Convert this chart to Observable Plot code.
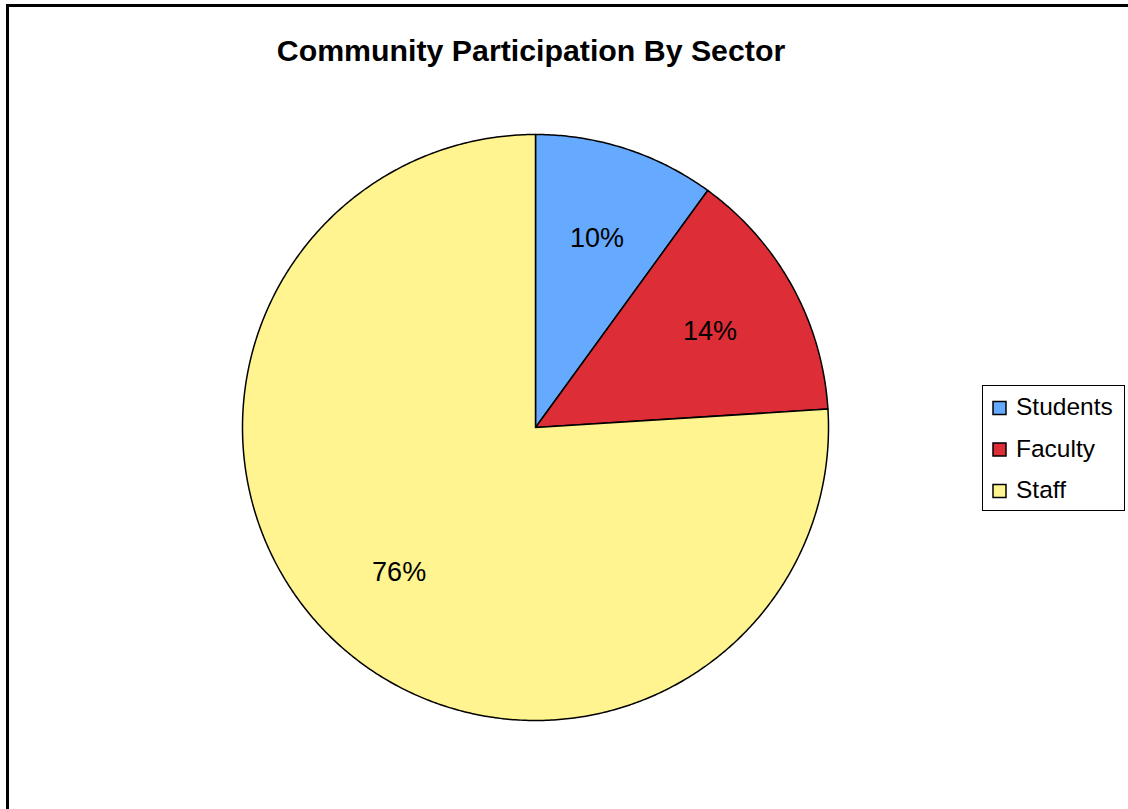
<!DOCTYPE html>
<html>
<head>
<meta charset="utf-8">
<script src="https://cdn.jsdelivr.net/npm/d3@7"></script>
<script src="https://cdn.jsdelivr.net/npm/@observablehq/plot@0.6"></script>
<style>
  html, body { margin: 0; padding: 0; background: #fff; overflow: hidden; width: 1128px; height: 809px; }
  #wrap { position: relative; width: 1128px; height: 809px; overflow: hidden; font-family: "Liberation Sans", Arial, sans-serif; background: #fff; }
  #wrap > svg { position: absolute; left: 0; top: 0; display: block; }
  #overlay { pointer-events: none; }
</style>
</head>
<body>
<div id="wrap"></div>
<script>
// ---- data ----
const title = "Community Participation By Sector";
const categories = ["Students", "Faculty", "Staff"];
const values = [10, 14, 76];
const colors = ["#66aaff", "#dd2d36", "#fff48f"];

// ---- build slice geometry from the data ----
const total = d3.sum(values);
const arcs = d3.pie().sort(null).value(d => d)(values);
const step = Math.PI / 360;
const slices = arcs.map((a, i) => {
  const ring = [[0, 0]];
  for (let t = a.startAngle; t < a.endAngle; t += step) ring.push([Math.sin(t), Math.cos(t)]);
  ring.push([Math.sin(a.endAngle), Math.cos(a.endAngle)]);
  ring.push([0, 0]);
  return {type: "Feature", properties: {category: categories[i]}, geometry: {type: "Polygon", coordinates: [ring]}};
});
const pieShape = {type: "FeatureCollection", features: slices};
const labelRadius = 0.68;
const labels = arcs.map((a, i) => {
  const mid = (a.startAngle + a.endAngle) / 2;
  return {x: labelRadius * Math.sin(mid), y: labelRadius * Math.cos(mid), text: Math.round(values[i] / total * 100) + "%"};
});

const chart = Plot.plot({
  width: 1128,
  height: 809,
  marginLeft: 242,
  marginRight: 300,
  marginTop: 134,
  marginBottom: 89,
  projection: {type: "reflect-y", domain: pieShape},
  color: {domain: categories, range: colors},
  style: {fontFamily: '"Liberation Sans", Arial, sans-serif', background: "transparent"},
  marks: [
    Plot.geo(pieShape, {fill: d => d.properties.category, stroke: "#000", strokeWidth: 1.5, strokeLinejoin: "round"}),
    Plot.text(labels, {x: "x", y: "y", text: "text", fontSize: 27, fill: "#000", lineAnchor: "middle"})
  ]
});
document.getElementById("wrap").appendChild(chart);

// ---- overlay: frame (left and top edges only are in view), title, legend ----
const svg = d3.select("#wrap").append("svg").attr("id", "overlay")
  .attr("width", 1128).attr("height", 809)
  .style("font-family", '"Liberation Sans", Arial, sans-serif');
svg.append("rect").attr("x", 1112).attr("y", 8).attr("width", 16).attr("height", 801).attr("fill", "#fff");
svg.append("path").attr("d", "M7.5,820V5.5H1140")
  .attr("fill", "none").attr("stroke", "#000").attr("stroke-width", 3);
svg.append("text").attr("x", 531).attr("y", 61).attr("text-anchor", "middle")
  .attr("font-size", 30.3).attr("font-weight", "bold").attr("fill", "#000").text(title);

const lg = svg.append("g");
lg.append("rect").attr("x", 982.5).attr("y", 385.5).attr("width", 142).attr("height", 125)
  .attr("fill", "#fff").attr("stroke", "#000").attr("stroke-width", 1);
categories.forEach((c, i) => {
  const y = 415 + i * 41.5;
  lg.append("rect").attr("x", 993).attr("y", y - 13.5).attr("width", 13).attr("height", 13)
    .attr("fill", colors[i]).attr("stroke", "#000").attr("stroke-width", 1.5);
  lg.append("text").attr("x", 1016).attr("y", y).attr("font-size", 24.5).attr("fill", "#000").text(c);
});
</script>
</body>
</html>
